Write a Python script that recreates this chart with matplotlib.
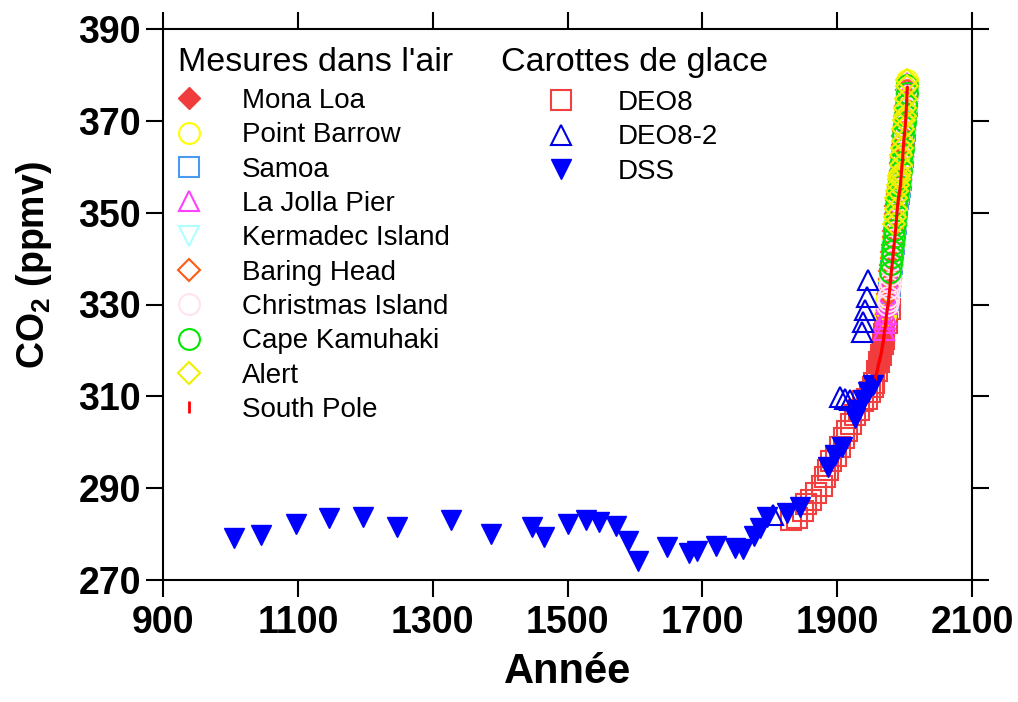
"""
CO2 record: ice cores (Law Dome) + direct air measurements.
"""

import matplotlib
matplotlib.use("Agg")
import matplotlib.pyplot as plt
from matplotlib.lines import Line2D

plt.rcParams['font.family'] = ['Liberation Sans', 'DejaVu Sans']
plt.rcParams['mathtext.fontset'] = 'custom'
plt.rcParams['mathtext.rm'] = 'Liberation Sans:bold'
plt.rcParams['mathtext.bf'] = 'Liberation Sans:bold'
plt.rcParams['mathtext.default'] = 'bf'

# ---- air measurements (annual means, ppmv) ----
mona_loa_years = list(range(1959, 2005))
mona_loa = [315.97, 316.91, 317.64, 318.45, 318.99, 319.62, 320.04, 321.38, 322.16, 323.04,
            324.62, 325.68, 326.32, 327.45, 329.68, 330.18, 331.11, 332.04, 333.83, 335.40,
            336.84, 338.75, 340.11, 341.45, 343.05, 344.65, 346.12, 347.42, 349.19, 351.57,
            353.12, 354.39, 355.61, 356.45, 357.10, 358.83, 360.82, 362.61, 363.73, 366.70,
            368.38, 369.55, 371.14, 373.28, 375.80, 377.52]

barrow_years = list(range(1971, 2005))
barrow = [327.8, 329.0, 330.9, 331.4, 332.3, 333.3, 335.2, 336.6, 338.3, 340.2,
          341.4, 342.9, 344.5, 346.1, 347.4, 348.8, 350.7, 353.1, 354.6, 356.0,
          357.2, 357.8, 358.4, 360.2, 362.3, 363.9, 365.3, 368.2, 369.9, 370.9,
          372.6, 374.5, 377.4, 378.9]

samoa_years = list(range(1976, 2005))
samoa = [331.0, 332.6, 334.0, 335.6, 337.4, 338.8, 340.1, 341.5, 343.1, 344.6,
         345.9, 347.5, 349.8, 351.5, 352.9, 354.1, 355.0, 355.6, 357.2, 359.2,
         360.9, 362.2, 364.8, 366.6, 367.7, 369.2, 371.0, 373.2, 375.0]

la_jolla_years = list(range(1969, 2005))
la_jolla = [324.5, 325.9, 326.8, 328.0, 330.1, 330.9, 331.8, 332.8, 334.6, 336.1,
            337.7, 339.6, 340.9, 342.2, 343.9, 345.5, 346.9, 348.3, 350.0, 352.4,
            354.0, 355.3, 356.4, 357.2, 357.9, 359.6, 361.6, 363.4, 364.6, 367.5,
            369.3, 370.4, 372.0, 374.1, 376.6, 378.3]

kermadec_years = list(range(1982, 2005))
kermadec = [340.0, 341.6, 343.2, 344.6, 346.0, 347.5, 349.7, 351.5, 352.9, 354.1,
            355.0, 355.6, 357.2, 359.2, 360.9, 362.3, 364.8, 366.7, 367.8, 369.3,
            371.1, 373.3, 375.1]

baring_years = list(range(1976, 2005))
baring = [332.3, 333.9, 335.5, 337.3, 338.7, 340.1, 341.4, 343.0, 344.6, 346.0,
          347.5, 349.7, 351.4, 352.8, 354.0, 354.9, 355.6, 357.1, 359.1, 360.8,
          362.2, 364.7, 366.6, 367.7, 369.2, 371.0, 373.2, 375.0, 376.8]

christmas_years = list(range(1974, 2005))
christmas = [329.8, 330.8, 331.6, 333.5, 334.9, 336.5, 338.4, 339.8, 341.0, 342.9,
             344.3, 345.8, 347.1, 349.0, 351.3, 352.7, 354.0, 355.2, 356.0, 356.7,
             358.5, 360.4, 362.2, 363.4, 366.4, 368.0, 369.2, 370.8, 372.9, 375.4,
             377.2]

kumukahi_years = list(range(1979, 2005))
kumukahi = [337.0, 338.9, 340.3, 341.6, 343.2, 344.8, 346.3, 347.6, 349.4, 351.7,
            353.3, 354.5, 355.8, 356.6, 357.3, 359.0, 361.0, 362.8, 363.9, 366.9,
            368.6, 369.7, 371.3, 373.5, 376.0, 377.7]

alert_years = list(range(1985, 2005))
alert = [347.6, 349.0, 350.9, 353.2, 354.8, 356.1, 357.3, 357.9, 358.6, 360.4,
         362.5, 364.1, 365.5, 368.3, 370.1, 371.1, 372.8, 374.7, 377.6, 379.0]

south_pole_years = list(range(1957, 2005))
south_pole = [314.2, 314.8, 315.4, 316.1, 316.8, 317.5, 318.1, 318.6, 319.2, 320.1,
              320.9, 321.7, 322.9, 324.1, 325.0, 326.0, 327.6, 328.7, 329.6, 330.6,
              332.0, 333.5, 334.9, 336.7, 338.0, 339.4, 340.8, 342.5, 343.9, 345.3,
              346.8, 348.7, 350.6, 352.0, 353.4, 354.2, 355.0, 356.4, 358.3, 360.1,
              361.6, 364.0, 366.1, 367.4, 368.9, 371.0, 374.0, 377.2]

# ---- ice cores ----
de08_years = [1832, 1840, 1850, 1854, 1861, 1869, 1877, 1882, 1886, 1891,
              1898, 1904, 1910, 1915, 1921, 1927, 1932, 1939, 1944, 1948,
              1953, 1954, 1959, 1962, 1965, 1968, 1969, 1970, 1974, 1978]
de08 = [283.0, 283.6, 285.0, 286.5, 287.5, 289.0, 290.5, 292.5, 294.0, 296.0,
        297.0, 299.0, 301.0, 302.5, 304.0, 306.0, 307.0, 309.0, 309.5, 311.0,
        312.0, 313.0, 315.5, 317.5, 319.0, 321.5, 322.5, 323.5, 326.0, 329.0]

de08_2_years = [1805, 1904, 1911, 1919, 1937, 1938, 1941, 1944, 1946]
de08_2 = [284.2, 309.9, 309.4, 309.2, 324.0, 326.2, 328.8, 331.7, 335.4]

dss_years = [1006, 1046, 1097, 1146, 1196, 1247, 1327, 1387, 1447, 1465,
             1500, 1528, 1546, 1572, 1590, 1605, 1647, 1680, 1692, 1721,
             1748, 1761, 1777, 1785, 1796, 1825, 1845, 1886, 1897, 1907,
             1926, 1931, 1938, 1946, 1953]
dss = [279.2, 279.9, 282.1, 283.6, 283.7, 281.6, 283.1, 280.0, 281.6, 279.4,
       282.1, 283.1, 282.6, 281.8, 278.5, 274.1, 277.1, 275.8, 276.4, 277.4,
       276.9, 276.8, 279.6, 281.3, 283.7, 284.5, 286.0, 294.6, 297.2, 299.0,
       305.3, 307.0, 309.2, 311.0, 312.5]

W, H = 1018, 702
fig = plt.figure(figsize=(W / 100, H / 100), dpi=100)
ax = fig.add_axes([163 / W, 1 - 580 / H, 809 / W, 551 / H])

mew = 1.5
# ice core DE08 underneath
h_de08, = ax.plot(de08_years, de08, 's', ms=14, mfc='none', mec='#f04040', mew=mew,
                  ls='none', label='DEO8')

h_ml, = ax.plot(mona_loa_years, mona_loa, 'D', ms=11, color='#f03c3c', mec='#f03c3c',
                ls='none', label='Mona Loa')
h_brw, = ax.plot(barrow_years, barrow, 'o', ms=15, mfc='none', mec='#ffff00', mew=mew,
                 ls='none', label='Point Barrow')
h_smo, = ax.plot(samoa_years, samoa, 's', ms=14, mfc='none', mec='#4a9bf0', mew=mew,
                 ls='none', label='Samoa')
h_ljo, = ax.plot(la_jolla_years, la_jolla, '^', ms=15, mfc='none', mec='#ff40ff', mew=mew,
                 ls='none', label='La Jolla Pier')
h_kmd, = ax.plot(kermadec_years, kermadec, 'v', ms=15, mfc='none', mec='#b0ffff', mew=mew,
                 ls='none', label='Kermadec Island')
h_bhd, = ax.plot(baring_years, baring, 'D', ms=11, mfc='none', mec='#ff5a14', mew=mew,
                 ls='none', label='Baring Head')
h_chr, = ax.plot(christmas_years, christmas, 'o', ms=15, mfc='none', mec='#ffe3f3', mew=mew,
                 ls='none', label='Christmas Island')
h_kum, = ax.plot(kumukahi_years, kumukahi, 'o', ms=15, mfc='none', mec='#00e600', mew=mew,
                 ls='none', label='Cape Kamuhaki')
h_alt, = ax.plot(alert_years, alert, 'D', ms=11, mfc='none', mec='#f0f000', mew=mew,
                 ls='none', label='Alert')

h_de082, = ax.plot(de08_2_years, de08_2, '^', ms=15, mfc='none', mec='#0000e6', mew=mew,
                   ls='none', label='DEO8-2')
h_dss, = ax.plot(dss_years, dss, 'v', ms=15, color='#0000ff', ls='none', label='DSS')

ax.plot(south_pole_years, south_pole, '-', color='#ff0000', lw=2.2,
        marker='|', ms=4, mew=1)
h_spo = Line2D([], [], ls='none', marker='|', ms=9, mew=2, color='#ff0000',
               label='South Pole')

ax.set_xlim(900, 2100)
ax.set_ylim(270, 390)
ax.set_xticks(range(900, 2101, 200))
ax.set_yticks(range(270, 391, 20))
ax.tick_params(direction='out', top=True, right=True, length=12, width=1.5,
               labelsize=27, pad=4)
ax.tick_params(axis='x', pad=6)
for lbl in ax.get_xticklabels() + ax.get_yticklabels():
    lbl.set_fontweight('bold')
for sp in ax.spines.values():
    sp.set_linewidth(1.5)

ax.set_xlabel('Année', fontsize=30, fontweight='bold')
ax.xaxis.set_label_coords(0.5, (580 - 672) / 551)
ax.xaxis.label.set_va('center')
ax.set_ylabel('CO$_2$ (ppmv)', fontsize=27, fontweight='bold')
ax.yaxis.set_label_coords((34 - 163) / 809, (580 - 265) / 551)
ax.yaxis.label.set_va('center')

# legend headers
fig.text(178 / W, 1 - 71 / H, "Mesures dans l'air", fontsize=24.5, va='baseline')
fig.text(501 / W, 1 - 71 / H, "Carottes de glace", fontsize=24.5, va='baseline')

leg_kw = dict(frameon=False, fontsize=20, borderpad=0, borderaxespad=0,
              handlelength=1.0, labelspacing=0.30, loc='upper left',
              bbox_transform=fig.transFigure)
leg1 = ax.legend(handles=[h_ml, h_brw, h_smo, h_ljo, h_kmd, h_bhd, h_chr, h_kum, h_alt, h_spo],
                 bbox_to_anchor=(175 / W, 1 - 88 / H), handletextpad=1.4, **leg_kw)
ax.add_artist(leg1)
ax.legend(handles=[h_de08, h_de082, h_dss],
          bbox_to_anchor=(547 / W, 1 - 90 / H), handletextpad=1.55, **leg_kw)

fig.savefig('out.png', dpi=100)
